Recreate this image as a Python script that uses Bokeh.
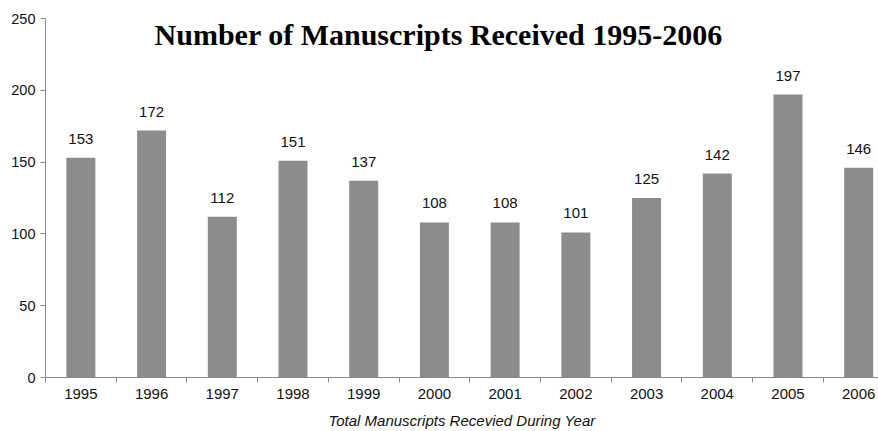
from bokeh.plotting import figure
from bokeh.models import Range1d, FixedTicker, Label, ColumnDataSource
from bokeh.core.properties import value
from bokeh.embed import file_html
from bokeh.resources import INLINE

years = [1995, 1996, 1997, 1998, 1999, 2000, 2001, 2002, 2003, 2004, 2005, 2006]
counts = [153, 172, 112, 151, 137, 108, 108, 101, 125, 142, 197, 146]
y_ticks = [0, 50, 100, 150, 200, 250]
title_text = "Number of Manuscripts Received 1995-2006"
x_label = "Total Manuscripts Recevied During Year"

src = ColumnDataSource(dict(x=years, top=counts, label=[str(c) for c in counts]))

p = figure(width=878, height=431, output_backend="svg", toolbar_location=None,
           x_range=Range1d(1994.5, 2006.28), y_range=Range1d(0, 250),
           min_border_left=45, min_border_right=0, min_border_top=18,
           min_border_bottom=54)
p.outline_line_color = None
p.xgrid.visible = False
p.ygrid.visible = False
p.background_fill_color = "white"
p.border_fill_color = "white"

p.vbar(x="x", top="top", width=0.41, source=src, fill_color="#8c8c8c",
       line_color=None)
p.text(x="x", y="top", text="label", source=src, text_align="center",
       text_baseline="bottom", y_offset=-14, text_font=value("Liberation Sans"),
       text_font_size="15px", text_color="#111111")

axis_col = "#8a8a8a"
p.xaxis.ticker = FixedTicker(ticks=years, minor_ticks=[y - 0.5 for y in years] + [2006.5])
p.xaxis.major_tick_line_color = None
p.xaxis.major_tick_out = 4
p.xaxis.major_tick_in = 0
p.xaxis.minor_tick_line_color = axis_col
p.xaxis.minor_tick_out = 5
p.xaxis.minor_tick_in = 0
p.xaxis.major_label_standoff = 6
p.xaxis.axis_label = x_label
p.xaxis.axis_label_text_font = "Liberation Sans"
p.xaxis.axis_label_text_font_style = "italic"
p.xaxis.axis_label_text_font_size = "15px"
p.xaxis.axis_label_text_color = "#111111"
p.xaxis.axis_label_standoff = 10

p.yaxis.ticker = FixedTicker(ticks=y_ticks, minor_ticks=[])
p.yaxis.major_tick_out = 5
p.yaxis.major_tick_in = 0
p.yaxis.major_label_standoff = 5
p.yaxis.major_tick_line_color = axis_col
p.yaxis.major_label_text_font_size = "14.5px"
p.xaxis.major_label_text_font_size = "15px"

for ax in (p.xaxis, p.yaxis):
    ax.axis_line_color = axis_col
    ax.major_label_text_font = "Liberation Sans"
    ax.major_label_text_color = "#111111"

title = Label(x=2000.06, y=239.0, text=title_text, text_align="center",
              text_baseline="alphabetic", text_font="Liberation Serif",
              text_font_style="bold", text_font_size="30px", text_color="black")
p.add_layout(title)

open("out.html", "w").write(file_html(p, INLINE))
